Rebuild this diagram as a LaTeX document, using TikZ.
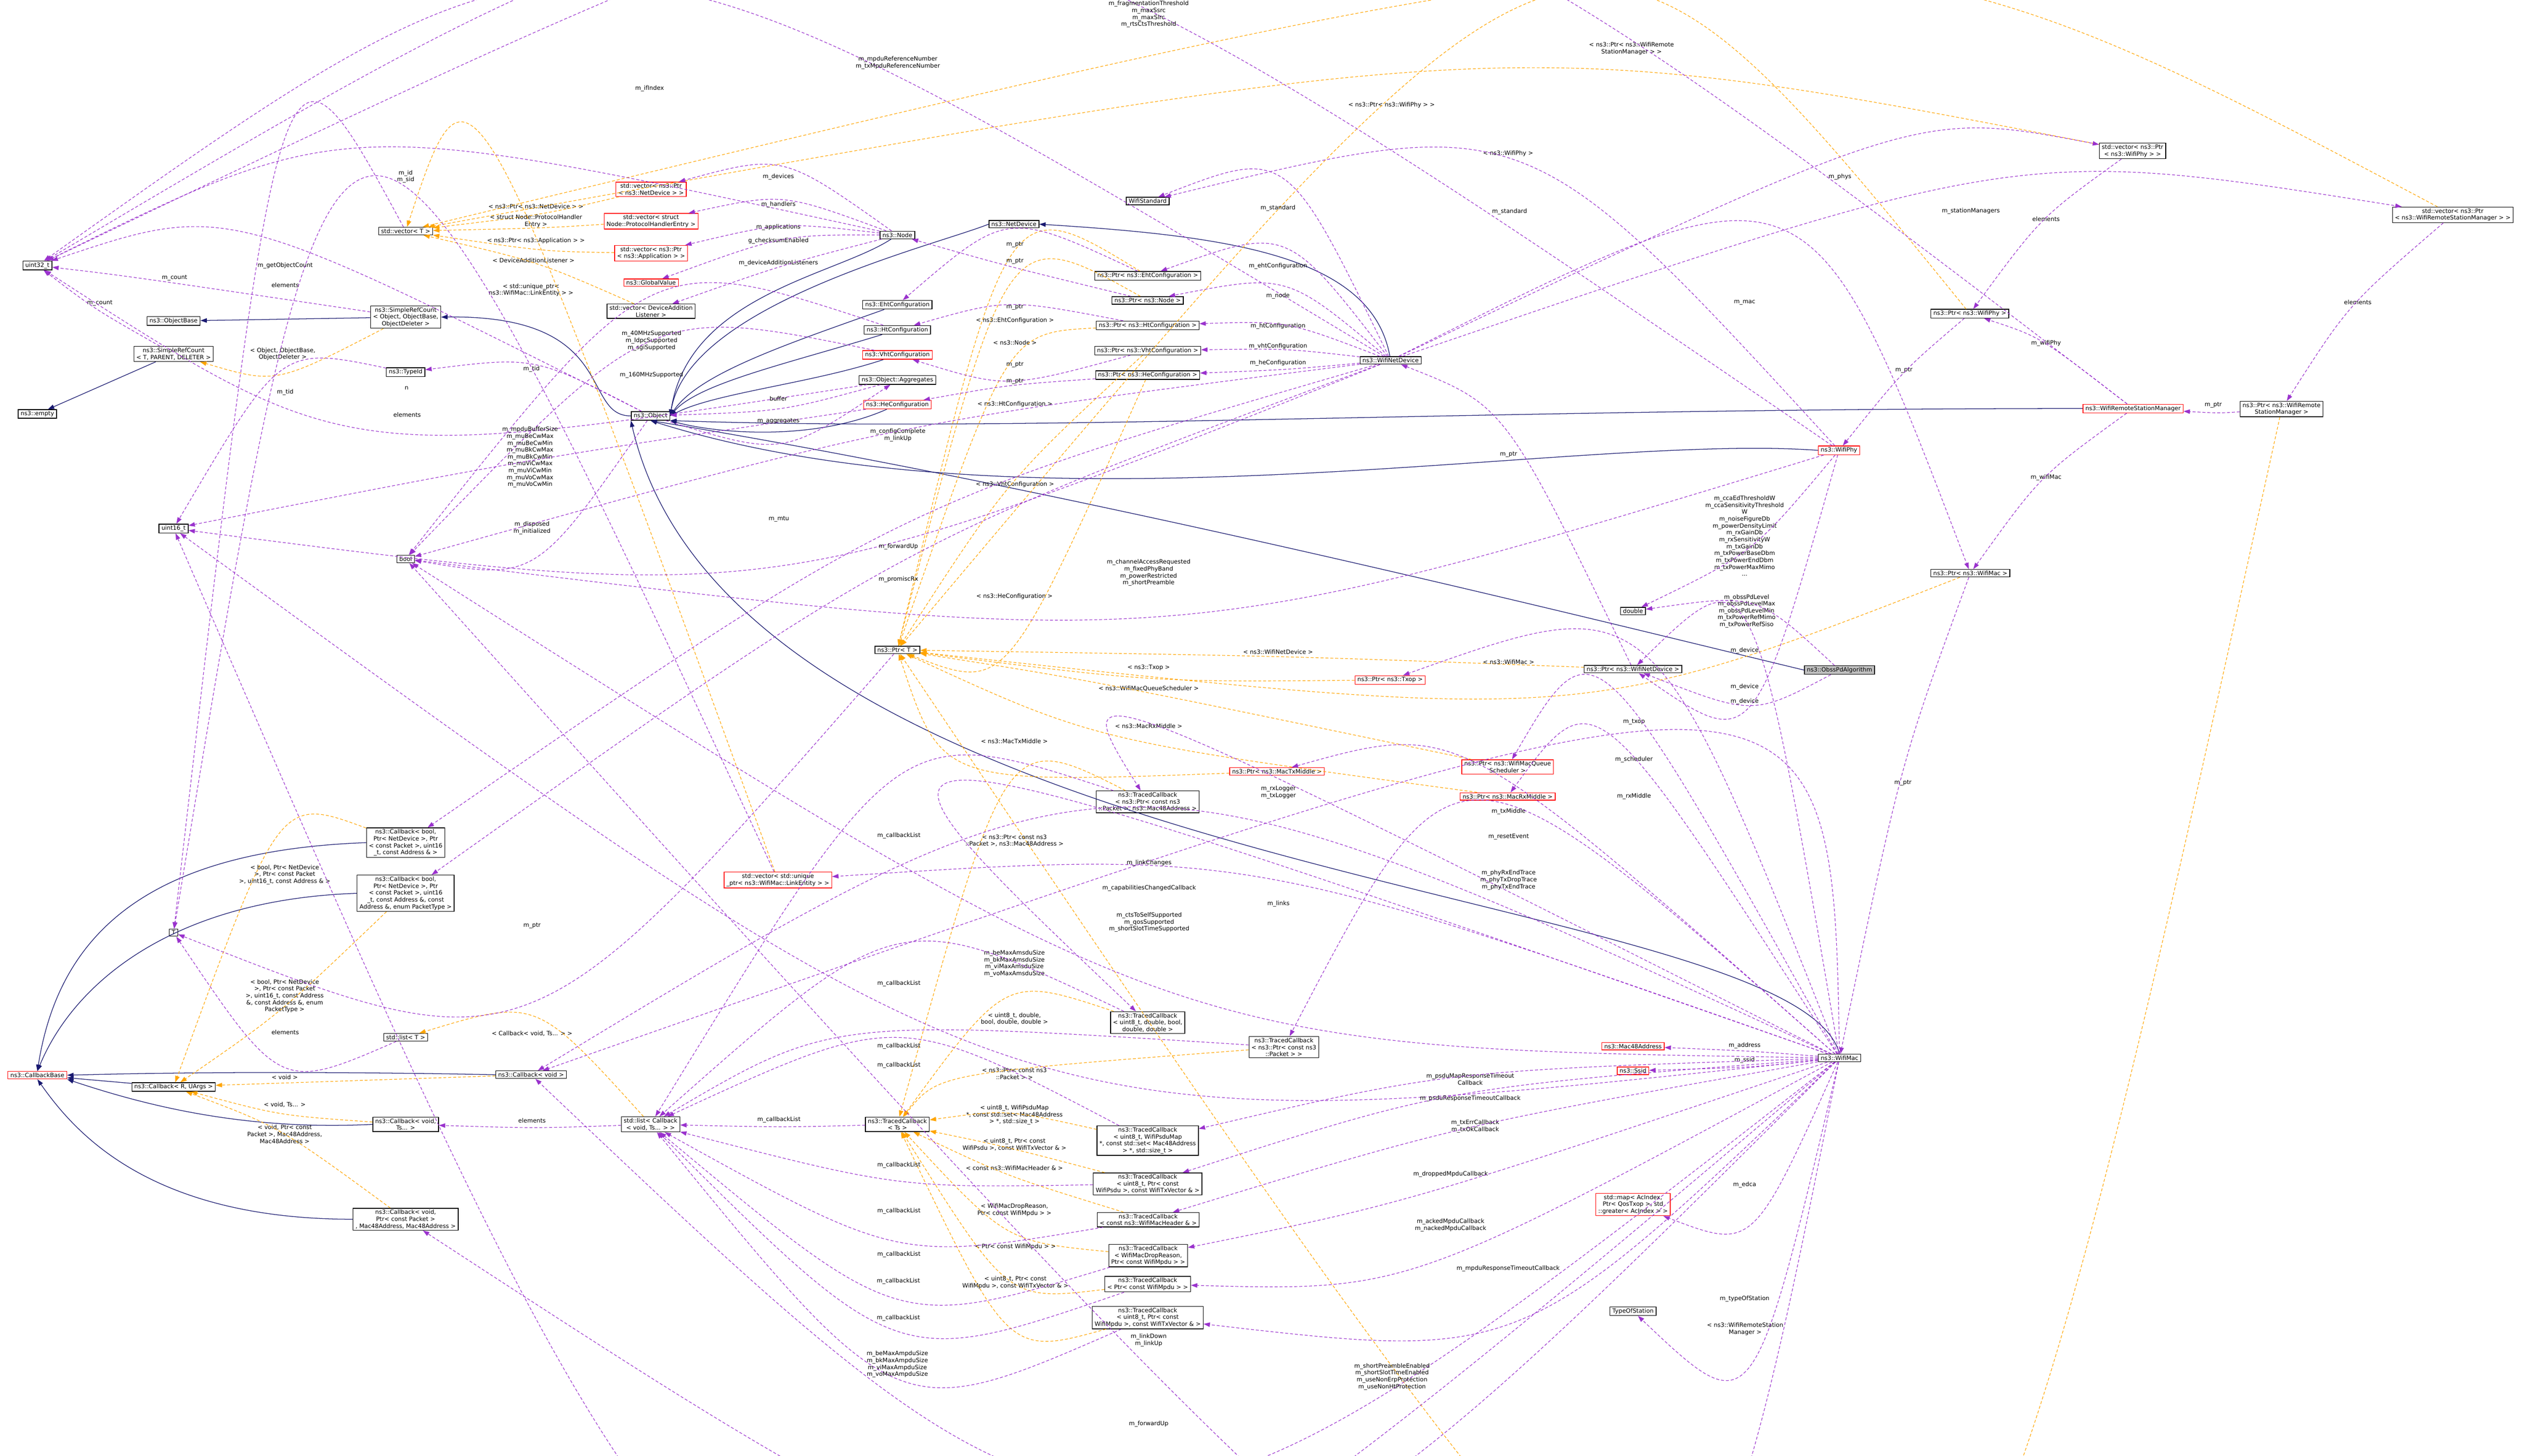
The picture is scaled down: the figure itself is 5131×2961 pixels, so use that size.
\documentclass[tikz,border=0pt]{standalone}
\usepackage{fontspec}
\setmainfont{DejaVu Sans}
\usetikzlibrary{calc,arrows.meta}
\definecolor{pc}{HTML}{9A32CD}
\definecolor{oc}{HTML}{FFA500}
\definecolor{nc}{HTML}{191970}
\newcount\lc
\newcommand\E[6]{\global\advance\lc by1
 \node[lbl] (lab\the\lc) at (#4,#5) {#6};
 \draw[#1] (#2) .. controls ($2*(#4,#5+12)-0.5*(#2)-0.5*(#3)$) .. (#3);}
\begin{document}
\begin{tikzpicture}[x=1pt,y=-1pt,
 bx/.style={draw=black,line width=1.4pt,fill=white,inner xsep=5pt,inner ysep=3pt,align=center,font=\fontsize{12}{14}\selectfont},
 rb/.style={bx,draw=red},
 lbl/.style={align=center,font=\fontsize{12}{14}\selectfont,inner sep=1pt},
 pe/.style={draw=pc,dashed,dash pattern=on 6pt off 4pt,line width=1.2pt,-{Triangle[length=13pt,width=9pt]}},
 oe/.style={draw=oc,dashed,dash pattern=on 6pt off 4pt,line width=1.2pt,-{Triangle[length=13pt,width=9pt]}},
 ie/.style={draw=nc,line width=1.3pt,-{Triangle[length=13pt,width=9pt]}}]
\useasboundingbox[fill=white] (0,0) rectangle (5131,2961);
% ---------------- nodes
\node[bx] (u32) at (76,540) {uint32\_t};
\node[bx] (vecT) at (825,470) {std::vector< T >};
\node[bx] (srcObj) at (825,645) {ns3::SimpleRefCount\\< Object, ObjectBase,\\ObjectDeleter >};
\node[bx] (objbase) at (353,653) {ns3::ObjectBase};
\node[bx] (srcT) at (353,720) {ns3::SimpleRefCount\\< T, PARENT, DELETER >};
\node[bx] (empty) at (76,842) {ns3::empty};
\node[bx] (typeid) at (825,757) {ns3::TypeId};
\node[bx] (u16) at (353,1075) {uint16\_t};
\node[bx] (bool) at (825,1137) {bool};
\node[rb] (vecNetDev) at (1324,385) {std::vector< ns3::Ptr\\< ns3::NetDevice > >};
\node[rb] (vecProto) at (1324,450) {std::vector< struct\\Node::ProtocolHandlerEntry >};
\node[rb] (vecApp) at (1324,515) {std::vector< ns3::Ptr\\< ns3::Application > >};
\node[rb] (globalval) at (1324,575) {ns3::GlobalValue};
\node[bx] (vecDAL) at (1324,633) {std::vector< DeviceAddition\\Listener >};
\node[bx] (node) at (1825,478) {ns3::Node};
\node[bx] (netdev) at (2062,456) {ns3::NetDevice};
\node[bx] (eht) at (1825,620) {ns3::EhtConfiguration};
\node[bx] (ht) at (1825,671) {ns3::HtConfiguration};
\node[rb] (vht) at (1825,722) {ns3::VhtConfiguration};
\node[bx] (aggr) at (1825,773) {ns3::Object::Aggregates};
\node[rb] (he) at (1825,823) {ns3::HeConfiguration};
\node[bx] (object) at (1323,846) {ns3::Object};
\node[bx] (wifistd) at (2334,409) {WifiStandard};
\node[bx] (pEht) at (2334,561) {ns3::Ptr< ns3::EhtConfiguration >};
\node[bx] (pNode) at (2334,611) {ns3::Ptr< ns3::Node >};
\node[bx] (pHt) at (2334,662) {ns3::Ptr< ns3::HtConfiguration >};
\node[bx] (pVht) at (2334,713) {ns3::Ptr< ns3::VhtConfiguration >};
\node[bx] (pHe) at (2334,763) {ns3::Ptr< ns3::HeConfiguration >};
\node[bx] (wnd) at (2828,733) {ns3::WifiNetDevice};
\node[bx] (vecPhy) at (4337,307) {std::vector< ns3::Ptr\\< ns3::WifiPhy > >};
\node[bx] (vecRsm) at (4988,437) {std::vector< ns3::Ptr\\< ns3::WifiRemoteStationManager > >};
\node[bx] (pPhy) at (4006,638) {ns3::Ptr< ns3::WifiPhy >};
\node[rb] (rsm) at (4338,831) {ns3::WifiRemoteStationManager};
\node[bx] (pRsm) at (4640,832) {ns3::Ptr< ns3::WifiRemote\\StationManager >};
\node[rb] (phy) at (3740,916) {ns3::WifiPhy};
\node[bx] (pMac) at (4007,1166) {ns3::Ptr< ns3::WifiMac >};
\node[bx] (double) at (3321,1243) {double};
\node[bx] (pWnd) at (3321,1361) {ns3::Ptr< ns3::WifiNetDevice >};
\node[bx,fill=black!25] (obss) at (3741,1363) {ns3::ObssPdAlgorithm};
\node[rb] (pTxop) at (2827,1383) {ns3::Ptr< ns3::Txop >};
\node[rb] (pSched) at (3066,1560) {ns3::Ptr< ns3::WifiMacQueue\\Scheduler >};
\node[rb] (pRx) at (3066,1620) {ns3::Ptr< ns3::MacRxMiddle >};
\node[rb] (pTx) at (2597,1569) {ns3::Ptr< ns3::MacTxMiddle >};
\node[bx] (ptrT) at (1825,1322) {ns3::Ptr< T >};
\node[bx] (tcPkt48) at (2334,1631) {ns3::TracedCallback\\< ns3::Ptr< const ns3\\::Packet >, ns3::Mac48Address >};
\node[rb] (vecLink) at (1582,1790) {std::vector< std::unique\\\_ptr< ns3::WifiMac::LinkEntity > >};
\node[bx] (tcDbl) at (2334,2080) {ns3::TracedCallback\\< uint8\_t, double, bool,\\double, double >};
\node[bx] (tcPkt) at (2611,2130) {ns3::TracedCallback\\< ns3::Ptr< const ns3\\::Packet > >};
\node[bx] (tcTs) at (1825,2287) {ns3::TracedCallback\\< Ts >};
\node[bx] (tcPsduMap) at (2334,2320) {ns3::TracedCallback\\< uint8\_t, WifiPsduMap\\*, const std::set< Mac48Address\\> *, std::size\_t >};
\node[bx] (tcPsdu) at (2334,2408) {ns3::TracedCallback\\< uint8\_t, Ptr< const\\WifiPsdu >, const WifiTxVector \& >};
\node[bx] (tcHdr) at (2335,2481) {ns3::TracedCallback\\< const ns3::WifiMacHeader \& >};
\node[bx] (tcDrop) at (2335,2554) {ns3::TracedCallback\\< WifiMacDropReason,\\Ptr< const WifiMpdu > >};
\node[bx] (tcMpdu) at (2334,2612) {ns3::TracedCallback\\< Ptr< const WifiMpdu > >};
\node[bx] (tcMpduTx) at (2334,2680) {ns3::TracedCallback\\< uint8\_t, Ptr< const\\WifiMpdu >, const WifiTxVector \& >};
\node[bx] (listCb) at (1323,2287) {std::list< Callback\\< void, Ts... > >};
\node[bx] (cbBool1) at (825,1714) {ns3::Callback< bool,\\Ptr< NetDevice >, Ptr\\< const Packet >, uint16\\\_t, const Address \& >};
\node[bx] (cbBool2) at (825,1817) {ns3::Callback< bool,\\Ptr< NetDevice >, Ptr\\< const Packet >, uint16\\\_t, const Address \&, const\\Address \&, enum PacketType >};
\node[bx] (T) at (353,1897) {T};
\node[bx] (listT) at (825,2110) {std::list< T >};
\node[rb] (cbBase) at (76,2187) {ns3::CallbackBase};
\node[bx] (cbR) at (353,2211) {ns3::Callback< R, UArgs >};
\node[bx] (cbVoid) at (1080,2186) {ns3::Callback< void >};
\node[bx] (cbVoidTs) at (825,2287) {ns3::Callback< void,\\Ts... >};
\node[bx] (cbVoidPkt) at (825,2480) {ns3::Callback< void,\\Ptr< const Packet >\\, Mac48Address, Mac48Address >};
\node[rb] (mac48) at (3321,2128) {ns3::Mac48Address};
\node[rb] (ssid) at (3321,2178) {ns3::Ssid};
\node[rb] (edca) at (3321,2450) {std::map< AcIndex,\\Ptr< QosTxop >, std\\::greater< AcIndex > >};
\node[bx] (typeofst) at (3321,2667) {TypeOfStation};
\node[bx] (wifimac) at (3741,2152) {ns3::WifiMac};
% ---------------- inheritance
\begin{scope}[on background layer/.style={}]
\draw[ie] (srcObj) -- (objbase);
\draw[ie] (srcT) -- (empty);
\draw[ie] (object.west) .. controls (1180,846) and (1260,640) .. (srcObj.east);
\draw[ie] (node) .. controls (1700,560) and (1400,600) .. (object.east);
\draw[ie] (netdev.west) .. controls (1900,500) and (1400,620) .. (object.east);
\draw[ie] (eht) .. controls (1600,700) and (1420,760) .. (object.east);
\draw[ie] (ht) .. controls (1600,740) and (1420,780) .. (object.east);
\draw[ie] (vht) .. controls (1650,780) and (1450,800) .. (object.east);
\draw[ie] (he) .. controls (1650,900) and (1450,880) .. (object.south east);
\draw[ie] (wnd) .. controls (2790,520) and (2500,480) .. (netdev.east);
\draw[ie] (rsm.west) .. controls (3000,831) and (2100,880) .. (object.south east);
\draw[ie] (phy.west) .. controls (3200,880) and (2100,1100) .. (object.south);
\draw[ie] (obss.west) .. controls (3200,1250) and (2200,1000) .. (object.south);
\draw[ie] (wifimac.north) .. controls (3650,1800) and (1500,1800) .. (object.south west);
\draw[ie] (cbBool1.west) .. controls (300,1730) and (120,1900) .. (cbBase.north);
\draw[ie] (cbBool2.west) .. controls (350,1830) and (150,2000) .. (cbBase.north);
\draw[ie] (cbR) -- (cbBase);
\draw[ie] (cbVoid.west) .. controls (700,2180) and (400,2180) .. (cbBase.east);
\draw[ie] (cbVoidTs.west) .. controls (500,2300) and (300,2250) .. (cbBase.south east);
\draw[ie] (cbVoidPkt.west) .. controls (300,2480) and (150,2300) .. (cbBase.south);
\end{scope}
% ---------------- template edges (orange)
\E{oe}{vecNetDev}{vecT}{1090}{420}{< ns3::Ptr< ns3::NetDevice > >}
\E{oe}{vecProto}{vecT}{1090}{450}{< struct Node::ProtocolHandler\\Entry >}
\E{oe}{vecApp}{vecT}{1090}{490}{< ns3::Ptr< ns3::Application > >}
\E{oe}{vecDAL}{vecT}{1085}{530}{< DeviceAdditionListener >}
\E{oe}{vecLink}{vecT}{1080}{590}{< std::unique\_ptr<\\ns3::WifiMac::LinkEntity > >}
\E{oe}{vecPhy}{vecT}{2830}{214}{< ns3::Ptr< ns3::WifiPhy > >}
\E{oe}{vecRsm}{vecT}{3318}{99}{< ns3::Ptr< ns3::WifiRemote\\StationManager > >}
\E{oe}{srcObj}{srcT}{575}{720}{< Object, ObjectBase,\\ObjectDeleter >}
\E{oe}{pEht}{ptrT}{2064}{652}{< ns3::EhtConfiguration >}
\E{oe}{pNode}{ptrT}{2064}{697}{< ns3::Node >}
\E{oe}{pHt}{ptrT}{2064}{822}{< ns3::HtConfiguration >}
\E{oe}{pVht}{ptrT}{2064}{985}{< ns3::VhtConfiguration >}
\E{oe}{pHe}{ptrT}{2063}{1213}{< ns3::HeConfiguration >}
\E{oe}{pPhy}{ptrT}{3067}{312}{< ns3::WifiPhy >}
\E{oe}{pWnd}{ptrT}{2599}{1326}{< ns3::WifiNetDevice >}
\E{oe}{pMac}{ptrT}{3068}{1346}{< ns3::WifiMac >}
\E{oe}{pTxop}{ptrT}{2336}{1358}{< ns3::Txop >}
\E{oe}{pSched}{ptrT}{2336}{1401}{< ns3::WifiMacQueueScheduler >}
\E{oe}{pRx}{ptrT}{2336}{1477}{< ns3::MacRxMiddle >}
\E{oe}{pTx}{ptrT}{2063}{1508}{< ns3::MacTxMiddle >}
\E{oe}{pRsm}{ptrT}{3549}{2703}{< ns3::WifiRemoteStation\\Manager >}
\E{oe}{tcPkt48}{tcTs}{2063}{1710}{< ns3::Ptr< const ns3\\::Packet >, ns3::Mac48Address >}
\E{oe}{tcDbl}{tcTs}{2063}{2072}{< uint8\_t, double,\\bool, double, double >}
\E{oe}{tcPkt}{tcTs}{2063}{2184}{< ns3::Ptr< const ns3\\::Packet > >}
\E{oe}{tcPsduMap}{tcTs}{2063}{2268}{< uint8\_t, WifiPsduMap\\*, const std::set< Mac48Address\\> *, std::size\_t >}
\E{oe}{tcPsdu}{tcTs}{2063}{2328}{< uint8\_t, Ptr< const\\WifiPsdu >, const WifiTxVector \& >}
\E{oe}{tcHdr}{tcTs}{2063}{2376}{< const ns3::WifiMacHeader \& >}
\E{oe}{tcDrop}{tcTs}{2063}{2461}{< WifiMacDropReason,\\Ptr< const WifiMpdu > >}
\E{oe}{tcMpdu}{tcTs}{2065}{2536}{< Ptr< const WifiMpdu > >}
\E{oe}{tcMpduTx}{tcTs}{2065}{2609}{< uint8\_t, Ptr< const\\WifiMpdu >, const WifiTxVector \& >}
\E{oe}{listCb}{listT}{1082}{2102}{< Callback< void, Ts... > >}
\E{oe}{cbBool1}{cbR}{579}{1779}{< bool, Ptr< NetDevice\\>, Ptr< const Packet\\>, uint16\_t, const Address \& >}
\E{oe}{cbBool2}{cbR}{579}{2026}{< bool, Ptr< NetDevice\\>, Ptr< const Packet\\>, uint16\_t, const Address\\\&, const Address \&, enum\\PacketType >}
\E{oe}{cbVoid}{cbR}{579}{2191}{< void >}
\E{oe}{cbVoidTs}{cbR}{579}{2247}{< void, Ts... >}
\E{oe}{cbVoidPkt}{cbR}{579}{2307}{< void, Ptr< const\\Packet >, Mac48Address,\\Mac48Address >}
% ---------------- member edges (purple)
\E{pe}{srcObj}{u32}{355}{565}{m\_count}
\E{pe}{srcT}{u32}{203}{617}{m\_count}
\E{pe}{object}{u32}{580}{540}{m\_getObjectCount}
\E{pe}{node}{u32}{825}{359}{m\_id\\m\_sid}
\E{pe}{wnd}{u32}{1321}{180}{m\_ifIndex}
\E{pe}{phy}{u32}{1826}{128}{m\_mpduReferenceNumber\\m\_txMpduReferenceNumber}
\E{pe}{rsm}{u32}{2336}{29}{m\_fragmentationThreshold\\m\_maxSsrc\\m\_maxSlrc\\m\_rtsCtsThreshold}
\E{pe}{object}{typeid}{1081}{751}{m\_tid}
\E{pe}{typeid}{u16}{580}{798}{m\_tid}
\E{pe}{aggr}{u32}{827}{789}{n}
\E{pe}{vecT}{T}{580}{580}{elements}
\E{pe}{vecLink}{T}{828}{844}{elements}
\E{pe}{listT}{T}{580}{2100}{elements}
\E{pe}{vecRsm}{pRsm}{4795}{615}{elements}
\E{pe}{vecPhy}{pPhy}{4161}{445}{elements}
\E{pe}{listCb}{cbVoidTs}{1082}{2279}{elements}
\E{pe}{ht}{bool}{1325}{693}{m\_40MHzSupported\\m\_ldpcSupported\\m\_sgiSupported}
\E{pe}{vht}{bool}{1325}{763}{m\_160MHzSupported}
\E{pe}{he}{u16}{1078}{930}{m\_mpduBufferSize\\m\_muBeCwMax\\m\_muBeCwMin\\m\_muBkCwMax\\m\_muBkCwMin\\m\_muViCwMax\\m\_muViCwMin\\m\_muVoCwMax\\m\_muVoCwMin}
\E{pe}{object}{bool}{1082}{1074}{m\_disposed\\m\_initialized}
\E{pe}{aggr}{object}{1583}{811}{buffer}
\E{pe}{object}{aggr}{1583}{857}{m\_aggregates}
\E{pe}{node}{vecNetDev}{1583}{360}{m\_devices}
\E{pe}{node}{vecProto}{1583}{416}{m\_handlers}
\E{pe}{node}{vecApp}{1583}{462}{m\_applications}
\E{pe}{node}{globalval}{1583}{490}{g\_checksumEnabled}
\E{pe}{node}{vecDAL}{1583}{535}{m\_deviceAdditionListeners}
\E{pe}{pEht}{eht}{2064}{497}{m\_ptr}
\E{pe}{pNode}{node}{2064}{531}{m\_ptr}
\E{pe}{pHt}{ht}{2064}{625}{m\_ptr}
\E{pe}{pVht}{vht}{2064}{742}{m\_ptr}
\E{pe}{pHe}{he}{2064}{776}{m\_ptr}
\E{pe}{wnd}{bool}{1826}{885}{m\_configComplete\\m\_linkUp}
\E{pe}{wnd}{u16}{1584}{1056}{m\_mtu}
\E{pe}{wnd}{cbBool1}{1827}{1112}{m\_forwardUp}
\E{pe}{wnd}{cbBool2}{1827}{1178}{m\_promiscRx}
\E{pe}{phy}{bool}{2336}{1165}{m\_channelAccessRequested\\m\_fixedPhyBand\\m\_powerRestricted\\m\_shortPreamble}
\E{pe}{wnd}{wifistd}{2599}{423}{m\_standard}
\E{pe}{phy}{wifistd}{3070}{430}{m\_standard}
\E{pe}{wnd}{pEht}{2599}{541}{m\_ehtConfiguration}
\E{pe}{wnd}{pNode}{2599}{602}{m\_node}
\E{pe}{wnd}{pHt}{2599}{663}{m\_htConfiguration}
\E{pe}{wnd}{pVht}{2599}{704}{m\_vhtConfiguration}
\E{pe}{wnd}{pHe}{2599}{738}{m\_heConfiguration}
\E{pe}{pWnd}{wnd}{3068}{924}{m\_ptr}
\E{pe}{wnd}{vecPhy}{3742}{360}{m\_phys}
\E{pe}{wnd}{vecRsm}{4008}{429}{m\_stationManagers}
\E{pe}{wnd}{pMac}{3548}{615}{m\_mac}
\E{pe}{pPhy}{phy}{3872}{753}{m\_ptr}
\E{pe}{rsm}{pPhy}{4161}{698}{m\_wifiPhy}
\E{pe}{pRsm}{rsm}{4501}{824}{m\_ptr}
\E{pe}{rsm}{pMac}{4161}{971}{m\_wifiMac}
\E{pe}{pMac}{wifimac}{3870}{1592}{m\_ptr}
\E{pe}{phy}{double}{3548}{1090}{m\_ccaEdThresholdW\\m\_ccaSensitivityThreshold\\W\\m\_noiseFigureDb\\m\_powerDensityLimit\\m\_rxGainDb\\m\_rxSensitivityW\\m\_txGainDb\\m\_txPowerBaseDbm\\m\_txPowerEndDbm\\m\_txPowerMaxMimo\\...}
\E{pe}{obss}{double}{3552}{1243}{m\_obssPdLevel\\m\_obssPdLevelMax\\m\_obssPdLevelMin\\m\_txPowerRefMimo\\m\_txPowerRefSiso}
\E{pe}{phy}{pWnd}{3548}{1323}{m\_device}
\E{pe}{obss}{pWnd}{3548}{1397}{m\_device}
\E{pe}{wifimac}{pWnd}{3548}{1427}{m\_device}
\E{pe}{wifimac}{pTxop}{3323}{1468}{m\_txop}
\E{pe}{wifimac}{pSched}{3323}{1545}{m\_scheduler}
\E{pe}{wifimac}{pRx}{3323}{1620}{m\_rxMiddle}
\E{pe}{wifimac}{pTx}{3068}{1651}{m\_txMiddle}
\E{pe}{wifimac}{cbVoid}{3068}{1702}{m\_resetEvent}
\E{pe}{wifimac}{tcPkt48}{2600}{1612}{m\_rxLogger\\m\_txLogger}
\E{pe}{wifimac}{tcPkt}{3068}{1790}{m\_phyRxEndTrace\\m\_phyTxDropTrace\\m\_phyTxEndTrace}
\E{pe}{wifimac}{vecLink}{2600}{1838}{m\_links}
\E{pe}{wifimac}{tcDbl}{2337}{1755}{m\_linkChanges}
\E{pe}{wifimac}{cbVoid}{2337}{1807}{m\_capabilitiesChangedCallback}
\E{pe}{wifimac}{bool}{2337}{1876}{m\_ctsToSelfSupported\\m\_qosSupported\\m\_shortSlotTimeSupported}
\E{pe}{wifimac}{u16}{2063}{1960}{m\_beMaxAmsduSize\\m\_bkMaxAmsduSize\\m\_viMaxAmsduSize\\m\_voMaxAmsduSize}
\E{pe}{tcPkt48}{listCb}{1828}{1700}{m\_callbackList}
\E{pe}{tcDbl}{listCb}{1828}{2000}{m\_callbackList}
\E{pe}{tcPkt}{listCb}{1828}{2128}{m\_callbackList}
\E{pe}{tcPsduMap}{listCb}{1828}{2167}{m\_callbackList}
\E{pe}{tcTs}{listCb}{1584}{2278}{m\_callbackList}
\E{pe}{tcPsdu}{listCb}{1828}{2370}{m\_callbackList}
\E{pe}{tcHdr}{listCb}{1828}{2463}{m\_callbackList}
\E{pe}{tcDrop}{listCb}{1828}{2552}{m\_callbackList}
\E{pe}{tcMpdu}{listCb}{1827}{2606}{m\_callbackList}
\E{pe}{tcMpduTx}{listCb}{1827}{2681}{m\_callbackList}
\E{pe}{ptrT}{T}{1082}{1883}{m\_ptr}
\E{pe}{wifimac}{mac48}{3548}{2127}{m\_address}
\E{pe}{wifimac}{ssid}{3548}{2156}{m\_ssid}
\E{pe}{wifimac}{tcPsduMap}{2990}{2195}{m\_psduMapResponseTimeout\\Callback}
\E{pe}{wifimac}{tcPsdu}{2990}{2234}{m\_psduResponseTimeoutCallback}
\E{pe}{wifimac}{tcHdr}{3000}{2291}{m\_txErrCallback\\m\_txOkCallback}
\E{pe}{wifimac}{tcDrop}{2950}{2388}{m\_droppedMpduCallback}
\E{pe}{wifimac}{edca}{3548}{2410}{m\_edca}
\E{pe}{wifimac}{tcMpdu}{2950}{2492}{m\_ackedMpduCallback\\m\_nackedMpduCallback}
\E{pe}{wifimac}{tcMpduTx}{3067}{2580}{m\_mpduResponseTimeoutCallback}
\E{pe}{wifimac}{typeofst}{3548}{2642}{m\_typeOfStation}
\E{pe}{wifimac}{cbVoid}{2336}{2726}{m\_linkDown\\m\_linkUp}
\E{pe}{wifimac}{u16}{1825}{2775}{m\_beMaxAmpduSize\\m\_bkMaxAmpduSize\\m\_viMaxAmpduSize\\m\_voMaxAmpduSize}
\E{pe}{wifimac}{bool}{2831}{2800}{m\_shortPreambleEnabled\\m\_shortSlotTimeEnabled\\m\_useNonErpProtection\\m\_useNonHtProtection}
\E{pe}{wifimac}{cbVoidPkt}{2336}{2896}{m\_forwardUp}
\end{tikzpicture}
\end{document}
